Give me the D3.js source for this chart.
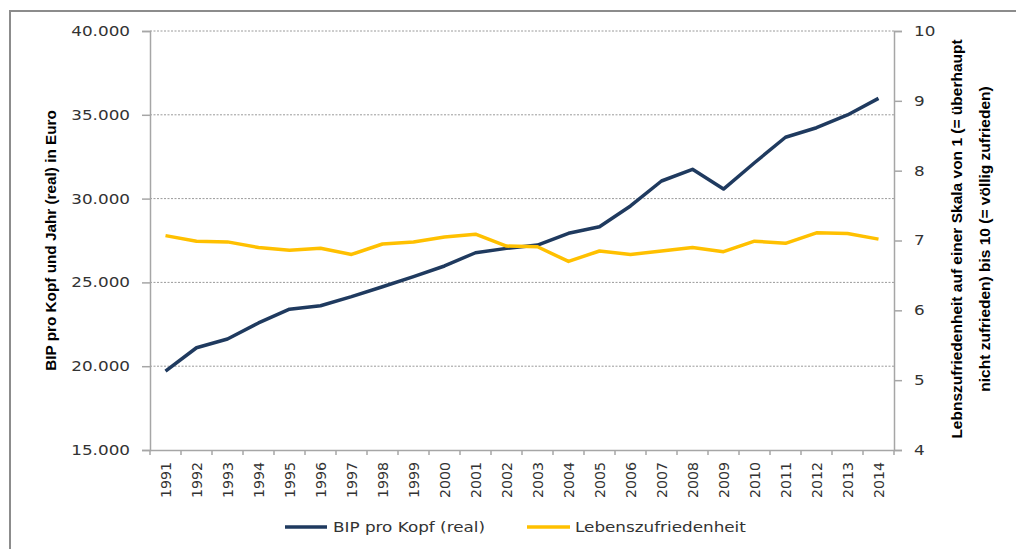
<!DOCTYPE html>
<html>
<head>
<meta charset="utf-8">
<script src="https://cdn.jsdelivr.net/npm/d3@7"></script>
<style>
  html, body { margin: 0; padding: 0; background: #fff; }
  svg { display: block; }
</style>
</head>
<body>
<svg id="chart" width="1016" height="549"></svg>
<script>
const years = ["1991","1992","1993","1994","1995","1996","1997","1998","1999","2000","2001","2002","2003","2004","2005","2006","2007","2008","2009","2010","2011","2012","2013","2014"];
const bip = [19700, 21100, 21620, 22580, 23400, 23610, 24150, 24740, 25340, 25980, 26770, 27030, 27230, 27930, 28320, 29560, 31050, 31750, 30570, 32140, 33660, 34230, 34990, 35980];
const zufriedenheit = [7.07, 6.99, 6.98, 6.90, 6.86, 6.89, 6.80, 6.95, 6.98, 7.05, 7.09, 6.92, 6.91, 6.70, 6.85, 6.80, 6.85, 6.90, 6.84, 6.99, 6.96, 7.11, 7.10, 7.02];
const leftTicks = [15000, 20000, 25000, 30000, 35000, 40000];
const leftTickLabels = ["15.000", "20.000", "25.000", "30.000", "35.000", "40.000"];
const rightTicks = [4, 5, 6, 7, 8, 9, 10];
const rightTickLabels = ["4", "5", "6", "7", "8", "9", "10"];
const seriesNames = ["BIP pro Kopf (real)", "Lebenszufriedenheit"];
const leftTitle = "BIP pro Kopf und Jahr (real) in Euro";
const rightTitle = ["Lebnszufriedenheit auf einer Skala von 1 (= überhaupt", "nicht zufrieden) bis 10 (= völlig zufrieden)"];

const navy = "#1f3a5f", yellow = "#ffc000";
const axisColor = "#a6a6a6", textColor = "#333333";
const FONT = "'DejaVu Sans', sans-serif";
const TITLEFONT = "'Liberation Sans', Arial, sans-serif";
const SX = 1.2; // horizontal stretch of horizontal text

const svg = d3.select("#chart");
const L = 150, R = 894, T = 31, B = 450;

// outer frame
svg.append("path").attr("d", "M10,549 V11 H1016").attr("fill", "none")
  .attr("stroke", "#8c8c8c").attr("stroke-width", 2);

const x = d3.scaleBand().domain(years).range([L, R]);
const yL = d3.scaleLinear().domain([15000, 40000]).range([B, T]);
const yR = d3.scaleLinear().domain([4, 10]).range([B, T]);
const cx = d => x(d) + x.bandwidth() / 2;

// gridlines
svg.append("g").selectAll("line").data(leftTicks.filter(t => t > 15000)).join("line")
  .attr("x1", L).attr("x2", R).attr("y1", d => yL(d)).attr("y2", d => yL(d))
  .attr("stroke", "#9a9a9a").attr("stroke-width", 1).attr("stroke-dasharray", "2,1.5");

// left axis
const gL = svg.append("g").attr("transform", `translate(${L},0)`)
  .call(d3.axisLeft(yL).tickValues(leftTicks).tickSize(8).tickPadding(12)
    .tickFormat((d, i) => leftTickLabels[i]));
gL.select(".domain").attr("stroke", axisColor).attr("stroke-width", 1.5);
gL.selectAll(".tick line").attr("stroke", axisColor).attr("stroke-width", 1.5);
gL.selectAll(".tick text").attr("font-family", FONT).attr("font-size", 14).attr("fill", textColor)
  .attr("x", -20 / SX).attr("transform", `scale(${SX},1)`);

// right axis
const gR = svg.append("g").attr("transform", `translate(${R},0)`)
  .call(d3.axisRight(yR).tickValues(rightTicks).tickSize(8).tickPadding(12)
    .tickFormat((d, i) => rightTickLabels[i]));
gR.select(".domain").attr("stroke", axisColor).attr("stroke-width", 1.5);
gR.selectAll(".tick line").attr("stroke", axisColor).attr("stroke-width", 1.5);
gR.selectAll(".tick text").attr("font-family", FONT).attr("font-size", 14).attr("fill", textColor)
  .attr("x", 20 / SX).attr("transform", `scale(${SX},1)`);

// bottom axis
const gB = svg.append("g").attr("transform", `translate(0,${B})`)
  .call(d3.axisBottom(x).tickSize(0).tickPadding(0));
gB.select(".domain").attr("stroke", axisColor).attr("stroke-width", 1.5);
gB.selectAll(".tick text").attr("font-family", FONT).attr("font-size", 14.2).attr("fill", textColor)
  .attr("transform", "rotate(-90)").attr("text-anchor", "end")
  .attr("x", -12).attr("y", 0).attr("dy", "0.36em");
// boundary ticks
gB.append("g").selectAll("line").data(years.map(d => x(d)).concat([R])).join("line")
  .attr("x1", d => d).attr("x2", d => d).attr("y1", 0).attr("y2", 5)
  .attr("stroke", axisColor).attr("stroke-width", 1.5);

// lines
const lineBip = d3.line().x((d, i) => cx(years[i])).y(d => yL(d));
const lineZ = d3.line().x((d, i) => cx(years[i])).y(d => yR(d));
svg.append("path").datum(bip).attr("d", lineBip).attr("fill", "none")
  .attr("stroke", navy).attr("stroke-width", 3.5).attr("stroke-linejoin", "round");
svg.append("path").datum(zufriedenheit).attr("d", lineZ).attr("fill", "none")
  .attr("stroke", yellow).attr("stroke-width", 3.5).attr("stroke-linejoin", "round");

// axis titles
svg.append("text").attr("transform", `translate(51,${(T + B) / 2}) rotate(-90)`)
  .attr("text-anchor", "middle").attr("dy", "0.35em")
  .attr("font-family", TITLEFONT).attr("font-weight", "bold").attr("font-size", 15.3).attr("fill", "#000")
  .text(leftTitle);
rightTitle.forEach((t, i) => {
  svg.append("text").attr("transform", `translate(${957 + i * 28},239) rotate(-90)`)
    .attr("text-anchor", "middle").attr("dy", "0.35em")
    .attr("font-family", TITLEFONT).attr("font-weight", "bold").attr("font-size", 15.5).attr("fill", "#000")
    .text(t);
});

// legend
const legend = [
  { name: seriesNames[0], color: navy, x1: 285, x2: 327, tx: 333 },
  { name: seriesNames[1], color: yellow, x1: 527, x2: 570, tx: 575 }
];
const lg = svg.append("g");
legend.forEach(it => {
  lg.append("line").attr("x1", it.x1).attr("x2", it.x2).attr("y1", 527).attr("y2", 527)
    .attr("stroke", it.color).attr("stroke-width", 3.5);
  lg.append("text").attr("transform", `translate(${it.tx},527) scale(${SX},1)`)
    .attr("dy", "0.35em").attr("font-family", FONT).attr("font-size", 14).attr("fill", textColor)
    .text(it.name);
});
</script>
</body>
</html>
